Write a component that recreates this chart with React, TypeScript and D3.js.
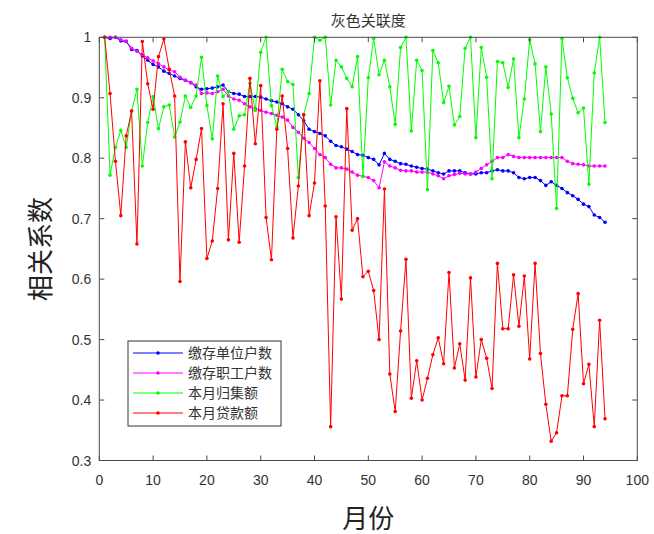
import React from "react";
import * as d3 from "d3";

const months: number[] = d3.range(1, 95);

const blueUnits: number[] = [
  1.0, 0.998, 1.0, 0.994, 0.993, 0.98, 0.978, 0.969, 0.962, 0.955,
  0.951, 0.944, 0.94, 0.936, 0.932, 0.929, 0.925, 0.918, 0.914, 0.915,
  0.916, 0.918, 0.921, 0.91, 0.907, 0.906, 0.902, 0.902, 0.902, 0.901,
  0.898, 0.895, 0.893, 0.89, 0.885, 0.881, 0.872, 0.862, 0.848, 0.844,
  0.841, 0.837, 0.828, 0.821, 0.819, 0.815, 0.811, 0.806, 0.805, 0.801,
  0.798, 0.789, 0.808, 0.798, 0.795, 0.791, 0.79, 0.787, 0.785, 0.783,
  0.782, 0.779, 0.776, 0.774, 0.779, 0.779, 0.779, 0.776, 0.774, 0.774,
  0.776, 0.776, 0.779, 0.781, 0.779, 0.779, 0.776, 0.768, 0.766, 0.768,
  0.768, 0.763, 0.755, 0.761, 0.755, 0.75, 0.743, 0.738, 0.732, 0.724,
  0.72, 0.706, 0.702, 0.694,
];

const magentaWorkers: number[] = [
  1.0, 1.0, 1.0, 0.996, 0.994, 0.982, 0.977, 0.971, 0.966, 0.961,
  0.956, 0.951, 0.946, 0.943, 0.934, 0.929, 0.925, 0.921, 0.907, 0.908,
  0.907, 0.91, 0.914, 0.903, 0.898, 0.896, 0.89, 0.885, 0.882, 0.879,
  0.876, 0.874, 0.871, 0.868, 0.863, 0.851, 0.843, 0.833, 0.826, 0.816,
  0.806, 0.801, 0.79, 0.784, 0.784, 0.782, 0.777, 0.772, 0.77, 0.768,
  0.763, 0.751, 0.794, 0.787, 0.784, 0.78, 0.779, 0.779, 0.777, 0.777,
  0.777, 0.774, 0.771, 0.766, 0.771, 0.773, 0.775, 0.774, 0.774, 0.777,
  0.783, 0.789, 0.795, 0.801, 0.801, 0.806, 0.803, 0.801, 0.801, 0.801,
  0.801, 0.801, 0.801, 0.801, 0.801, 0.801, 0.795, 0.791, 0.79, 0.789,
  0.787, 0.787, 0.787, 0.787,
];

const greenCollect: number[] = [
  1.0, 0.772, 0.818, 0.846, 0.818, 0.878, 0.914, 0.787, 0.859, 0.902,
  0.849, 0.885, 0.888, 0.835, 0.86, 0.903, 0.884, 0.903, 0.967, 0.887,
  0.832, 0.936, 0.902, 0.91, 0.848, 0.87, 0.872, 0.924, 0.879, 0.975,
  1.0, 0.887, 0.852, 0.947, 0.927, 0.922, 0.768, 0.872, 0.907, 1.0,
  0.995, 1.0, 0.888, 0.962, 0.951, 0.932, 0.918, 0.968, 0.77, 0.933,
  0.998, 0.938, 0.962, 0.918, 0.856, 0.983, 1.0, 0.845, 0.962, 0.945,
  0.748, 0.978, 0.958, 0.892, 0.919, 0.855, 0.869, 0.982, 1.0, 0.834,
  0.983, 0.934, 0.766, 0.96, 0.958, 0.917, 0.964, 0.834, 0.898, 0.996,
  0.956, 0.844, 0.951, 0.873, 0.717, 0.998, 0.933, 0.899, 0.875, 0.883,
  0.757, 0.941, 1.0, 0.859,
];

const redLoan: number[] = [
  1.0, 0.907, 0.795, 0.705, 0.837, 0.878, 0.658, 0.993, 0.923, 0.881,
  0.968, 0.997, 0.947, 0.903, 0.596, 0.827, 0.751, 0.798, 0.849, 0.634,
  0.663, 0.75, 0.89, 0.665, 0.808, 0.661, 0.787, 0.932, 0.824, 0.92,
  0.702, 0.632, 0.848, 0.903, 0.816, 0.668, 0.754, 0.872, 0.705, 0.759,
  0.928, 0.721, 0.356, 0.703, 0.567, 0.882, 0.681, 0.7, 0.604, 0.613,
  0.581, 0.5, 0.749, 0.443, 0.381, 0.514, 0.633, 0.403, 0.465, 0.4,
  0.436, 0.475, 0.503, 0.46, 0.611, 0.453, 0.493, 0.433, 0.602, 0.438,
  0.5, 0.469, 0.419, 0.626, 0.518, 0.518, 0.607, 0.522, 0.605, 0.468,
  0.626, 0.477, 0.393, 0.332, 0.346, 0.407, 0.407, 0.517, 0.576, 0.427,
  0.459, 0.356, 0.532, 0.369,
];

const seriesNames: string[] = ["缴存单位户数", "缴存职工户数", "本月归集额", "本月贷款额"];
const seriesColors: string[] = ["#0000ff", "#ff00ff", "#00ff00", "#ff0000"];
const seriesValues: number[][] = [blueUnits, magentaWorkers, greenCollect, redLoan];

const xTicks: number[] = [0, 10, 20, 30, 40, 50, 60, 70, 80, 90, 100];
const yTicks: number[] = [0.3, 0.4, 0.5, 0.6, 0.7, 0.8, 0.9, 1];

const chartTitle = "灰色关联度";
const xLabel = "月份";
const yLabel = "相关系数";

export default function App() {
  const W = 654;
  const H = 534;
  const left = 99.3;
  const right = 637.3;
  const top = 37.3;
  const bottom = 460.5;
  const x = d3.scaleLinear().domain([0, 100]).range([left, right]);
  const y = d3.scaleLinear().domain([0.3, 1]).range([bottom, top]);
  const line = d3
    .line<number>()
    .x((_, i) => x(months[i]))
    .y((d) => y(d));
  const axisColor = "#4a4a4a";
  const tickLen = 5;
  const font = "'Liberation Sans', Arial, sans-serif";
  const cjk = "'Noto Sans CJK SC', sans-serif";

  const legX = 128;
  const legY = 341;
  const legW = 153;
  const legH = 85;

  return (
    <svg
      width={W}
      height={H}
      style={{ position: "absolute", left: 0, top: 0, background: "#fff" }}
    >
      <rect x={0} y={0} width={W} height={H} fill="#fff" />
      {/* series */}
      {seriesValues.map((vals, s) => (
        <g key={s}>
          <path d={line(vals) || ""} fill="none" stroke={seriesColors[s]} strokeWidth={1} />
          {vals.map((v, i) => (
            <circle key={i} cx={x(months[i])} cy={y(v)} r={1.8} fill={seriesColors[s]} />
          ))}
        </g>
      ))}
      {/* axes box */}
      <rect x={left} y={top} width={right - left} height={bottom - top} fill="none" stroke={axisColor} strokeWidth={1} />
      {xTicks.map((t) => (
        <g key={"x" + t}>
          <line x1={x(t)} x2={x(t)} y1={bottom} y2={bottom - tickLen} stroke={axisColor} />
          <line x1={x(t)} x2={x(t)} y1={top} y2={top + tickLen} stroke={axisColor} />
          <text x={x(t)} y={bottom + 24} textAnchor="middle" fontSize={14} fontFamily={font} fill="#333">
            {t}
          </text>
        </g>
      ))}
      {yTicks.map((t) => (
        <g key={"y" + t}>
          <line x1={left} x2={left + tickLen} y1={y(t)} y2={y(t)} stroke={axisColor} />
          <line x1={right} x2={right - tickLen} y1={y(t)} y2={y(t)} stroke={axisColor} />
          <text x={left - 8} y={y(t) + 5} textAnchor="end" fontSize={14} fontFamily={font} fill="#333">
            {d3.format("~g")(t)}
          </text>
        </g>
      ))}
      {/* title & labels */}
      <text x={(left + right) / 2} y={26} textAnchor="middle" fontSize={15} fontFamily={cjk} fill="#333">
        {chartTitle}
      </text>
      <text x={(left + right) / 2} y={528} textAnchor="middle" fontSize={26} fontFamily={cjk} fill="#222">
        {xLabel}
      </text>
      <text
        transform={`translate(50, ${(top + bottom) / 2}) rotate(-90)`}
        textAnchor="middle"
        fontSize={26}
        fontFamily={cjk}
        fill="#222"
      >
        {yLabel}
      </text>
      {/* legend */}
      <rect x={legX} y={legY} width={legW} height={legH} fill="#fff" stroke="#333" strokeWidth={1} />
      {seriesNames.map((name, i) => {
        const ly = legY + 12 + i * 20;
        return (
          <g key={name}>
            <line x1={legX + 5} x2={legX + 55} y1={ly} y2={ly} stroke={seriesColors[i]} strokeWidth={1} />
            <circle cx={legX + 30} cy={ly} r={1.8} fill={seriesColors[i]} />
            <text x={legX + 60} y={ly + 5} fontSize={14} fontFamily={cjk} fill="#333">
              {name}
            </text>
          </g>
        );
      })}
    </svg>
  );
}
